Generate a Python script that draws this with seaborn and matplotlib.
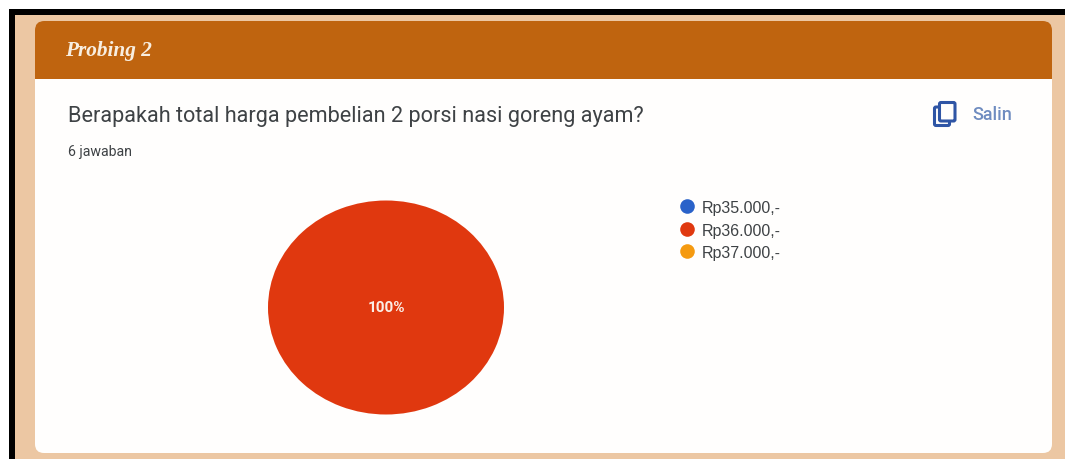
import matplotlib
matplotlib.use("Agg")
import matplotlib.pyplot as plt
from matplotlib.lines import Line2D
from matplotlib.patches import FancyBboxPatch, Rectangle
import seaborn as sns

# Survey responses
section_title = "Probing 2"
question = "Berapakah total harga pembelian 2 porsi nasi goreng ayam?"
response_note = "6 jawaban"
copy_label = "Salin"
answer_options = ["Rp35.000,-", "Rp36.000,-", "Rp37.000,-"]
answer_counts = [0, 6, 0]
option_colors = ["#2a62c9", "#e0380f", "#f59a10"]

W, H = 1065, 460
sns.set_theme(style="white")
plt.rcParams["font.family"] = ["Roboto", "DejaVu Sans"]

fig = plt.figure(figsize=(W / 100, H / 100), dpi=100, facecolor="white")

# Page layer in pixel units, y pointing down
page = fig.add_axes([0, 0, 1, 1])
page.set_xlim(0, W)
page.set_ylim(H, 0)
page.axis("off")

page.add_patch(Rectangle((9, 10), W - 9, H - 10, fc="#000000", ec="none"))
page.add_patch(Rectangle((15, 16), W - 15, H - 16, fc="#ecc7a3", ec="none"))

# White card and rounded orange header
page.add_patch(FancyBboxPatch((43, 30), 1001, 416,
                              boxstyle="round,pad=8,rounding_size=9",
                              fc="#fffefd", ec="none"))
page.add_patch(FancyBboxPatch((43, 30), 1001, 60,
                              boxstyle="round,pad=8,rounding_size=9",
                              fc="#bf640f", ec="none"))
page.add_patch(Rectangle((35, 60), 1017, 19.5, fc="#bf640f", ec="none"))
page.add_patch(Rectangle((35, 79.5), 1017, 40, fc="#fffefd", ec="none"))

page.text(65, 51, section_title, family="Liberation Serif", style="italic",
          weight="bold", fontsize=15.3, color="#f8eee0", va="center")
page.text(68, 116.5, question, fontsize=15.55, color="#3e4245", va="center")
page.text(68, 152, response_note, fontsize=10.2, color="#3e4245", va="center")
page.text(972, 115, copy_label, fontsize=13, weight="medium", color="#6f8cc0",
          va="center")

# Copy icon: back sheet outline partly hidden by the front sheet
icon_blue = "#2f55a5"
page.add_patch(FancyBboxPatch((934.5, 108), 15, 18.5,
                              boxstyle="round,pad=0,rounding_size=1.5",
                              fc="none", ec=icon_blue, lw=2.2))
page.add_patch(FancyBboxPatch((939.5, 103.5), 15.5, 18.5,
                              boxstyle="round,pad=0,rounding_size=1.5",
                              fc="#fffefd", ec=icon_blue, lw=2.2))

# Pie stretched into the slightly wide ellipse
pie_ax = fig.add_axes([268 / W, 1 - 415.5 / H, 236 / W, 214 / H])
wedges, _, autotexts = pie_ax.pie(
    answer_counts,
    colors=option_colors,
    startangle=90,
    counterclock=False,
    radius=1,
    autopct=lambda pct: f"{pct:.0f}%" if pct > 0 else "",
    pctdistance=0,
    wedgeprops={"linewidth": 0},
    textprops={"color": "#fbeee6", "fontsize": 11, "weight": "bold"},
)
pie_ax.set_aspect("auto")
pie_ax.set_xlim(-1, 1)
pie_ax.set_ylim(-1, 1)

# Legend with round swatches
handles = [Line2D([], [], linestyle="none", marker="o", markersize=10.5,
                  markerfacecolor=c, markeredgecolor="none")
           for c in option_colors]
fig.legend(handles, answer_options, loc="upper left",
           bbox_to_anchor=(677 / W, 1 - 201 / H), frameon=False, ncol=1,
           prop={"family": "Liberation Sans", "size": 11.5},
           labelcolor="#3e4245", handletextpad=0.31, labelspacing=0.47,
           borderpad=0, borderaxespad=0, handlelength=1.25)

fig.savefig("out.png", dpi=100)
